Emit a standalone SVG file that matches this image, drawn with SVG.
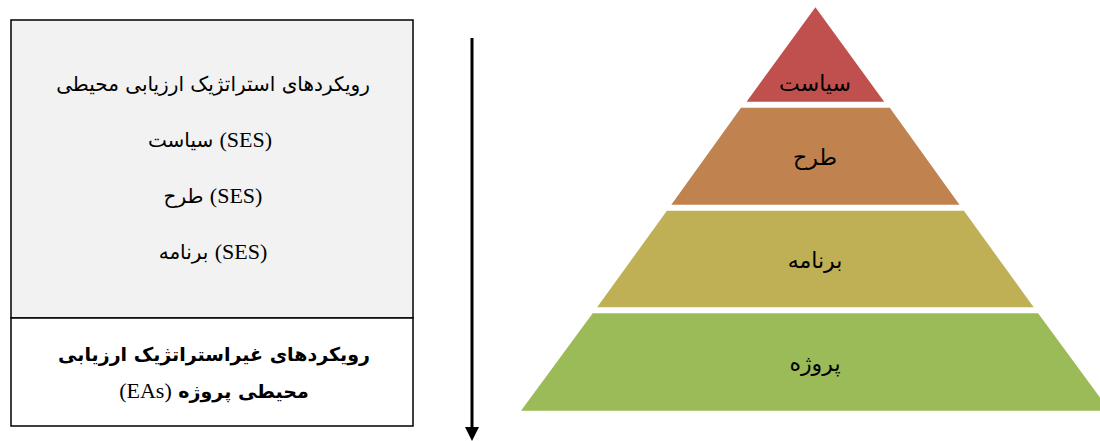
<svg xmlns="http://www.w3.org/2000/svg" width="1100" height="441" viewBox="0 0 1100 441">
<defs>
<style>
.t{font-family:"DejaVu Sans",serif;font-size:20px;fill:#000;text-anchor:middle}
.b{font-weight:bold;font-size:19px}
.l{font-family:"Liberation Serif",serif;font-size:22px}
.p{font-family:"DejaVu Sans",serif;font-size:22px;fill:#000;text-anchor:middle}
.box{stroke:#000;stroke-width:1.5}
</style>
</defs>
<g id="strategic">
<rect class="box" x="11" y="20" width="402" height="298" fill="#F2F2F2"/>
<text class="t" x="213" y="91">رویکردهای استراتژیک ارزیابی محیطی</text>
<text class="t" x="210" y="147">سیاست <tspan class="l">(SES)</tspan></text>
<text class="t" x="213" y="203">طرح <tspan class="l">(SES)</tspan></text>
<text class="t" x="213" y="259">برنامه <tspan class="l">(SES)</tspan></text>
</g>
<g id="nonstrategic">
<rect class="box" x="11" y="318" width="402" height="108" fill="#FFFFFF"/>
<text class="t b" x="214" y="361">رویکردهای غیراستراتژیک ارزیابی</text>
<text class="t b" x="214" y="398"><tspan class="l" font-weight="normal">(EAs)</tspan> محیطی پروژه</text>
</g>
<g id="connectors">
<line x1="472" y1="38" x2="472" y2="427" stroke="#000" stroke-width="3"/>
<path d="M465,427 L479,427 L472,441 Z" fill="#000"/>
</g>
<g id="tier-policy">
<polygon points="815.4,7.3 884.2,101.7 746.6,101.7" fill="#C0504D"/>
<text class="p" x="815" y="91">سیاست</text>
</g>
<g id="tier-plan">
<polygon points="741,107.7 889.8,107.7 959.5,204.7 671.3,204.7" fill="#C0834F"/>
<text class="p" x="815" y="165">طرح</text>
</g>
<g id="tier-program">
<polygon points="666.9,210.7 963.9,210.7 1033.7,307.3 597.1,307.3" fill="#BFB056"/>
<text class="p" x="815" y="268">برنامه</text>
</g>
<g id="tier-project">
<polygon points="592.7,313.3 1038.1,313.3 1109.8,410.7 521,410.7" fill="#9BBB59"/>
<text class="p" x="815" y="371">پروژه</text>
</g>
</svg>
